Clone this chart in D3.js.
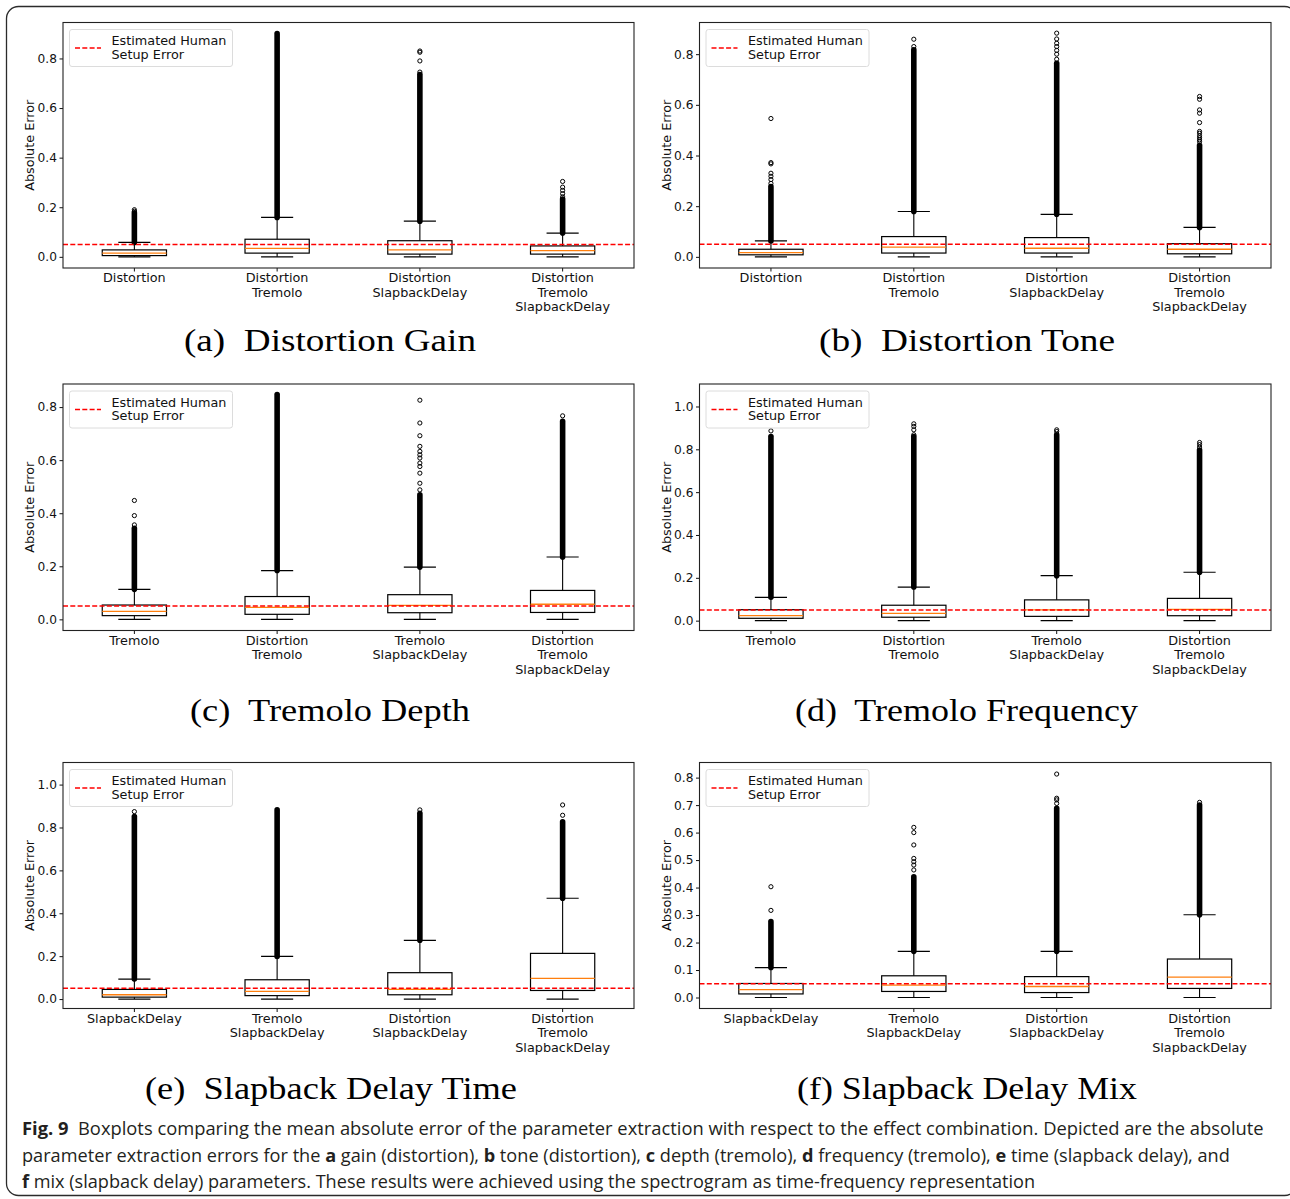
<!DOCTYPE html>
<html>
<head>
<meta charset="utf-8">
<script src="https://cdn.jsdelivr.net/npm/d3@7/dist/d3.min.js"></script>
<style>
  html, body { margin: 0; padding: 0; background: #fff; }
  svg { display: block; }
  .pre { white-space: pre; }
</style>
</head>
<body>
<script>
// ---- Categories (x tick labels, one entry per line) ----
const catsDistortion = [["Distortion"], ["Distortion", "Tremolo"], ["Distortion", "SlapbackDelay"], ["Distortion", "Tremolo", "SlapbackDelay"]];
const catsTremolo = [["Tremolo"], ["Distortion", "Tremolo"], ["Tremolo", "SlapbackDelay"], ["Distortion", "Tremolo", "SlapbackDelay"]];
const catsSlapback = [["SlapbackDelay"], ["Tremolo", "SlapbackDelay"], ["Distortion", "SlapbackDelay"], ["Distortion", "Tremolo", "SlapbackDelay"]];

// ---- Box statistics per category: [whisker low, Q1, median, Q3, whisker high] ----
const gainStats = [[0, 0.005, 0.015, 0.028, 0.058], [0, 0.015, 0.034, 0.071, 0.159], [0, 0.011, 0.028, 0.065, 0.144], [0, 0.011, 0.025, 0.044, 0.096]];
const toneStats = [[0, 0.008, 0.017, 0.030, 0.063], [0, 0.015, 0.038, 0.080, 0.179], [0, 0.015, 0.034, 0.076, 0.168], [0, 0.012, 0.030, 0.052, 0.116]];
const depthStats = [[0, 0.014, 0.030, 0.054, 0.113], [0, 0.019, 0.045, 0.086, 0.184], [0, 0.025, 0.053, 0.093, 0.197], [0, 0.026, 0.057, 0.109, 0.235]];
const freqStats = [[0, 0.011, 0.023, 0.051, 0.109], [0, 0.016, 0.034, 0.072, 0.157], [0, 0.020, 0.050, 0.097, 0.210], [0, 0.023, 0.053, 0.104, 0.226]];
const timeStats = [[0, 0.009, 0.020, 0.045, 0.093], [0, 0.016, 0.036, 0.090, 0.199], [0, 0.020, 0.045, 0.123, 0.274], [0, 0.040, 0.096, 0.213, 0.470]];
const mixStats = [[0, 0.013, 0.029, 0.051, 0.109], [0, 0.022, 0.045, 0.079, 0.168], [0, 0.018, 0.040, 0.076, 0.168], [0, 0.033, 0.074, 0.140, 0.301]];

// ---- Upper end of the densely packed outlier run above each whisker ----
const gainDenseTop = [0.178, 0.900, 0.735, 0.233];
const toneDenseTop = [0.277, 0.817, 0.764, 0.440];
const depthDenseTop = [0.343, 0.847, 0.469, 0.746];
const freqDenseTop = [0.860, 0.860, 0.868, 0.797];
const timeDenseTop = [0.851, 0.882, 0.866, 0.827];
const mixDenseTop = [0.276, 0.439, 0.688, 0.700];

// ---- Separately visible outliers above the dense run ----
const gainOutliers = [[0.184, 0.190], [], [0.745, 0.790, 0.825, 0.830], [0.242, 0.255, 0.268, 0.281, 0.304]];
const toneOutliers = [[0.290, 0.305, 0.318, 0.330, 0.367, 0.372, 0.546], [0.830, 0.859], [0.780, 0.800, 0.815, 0.830, 0.843, 0.860, 0.883], [0.455, 0.462, 0.470, 0.478, 0.488, 0.495, 0.530, 0.567, 0.580, 0.622, 0.633]];
const depthOutliers = [[0.356, 0.391, 0.448], [], [0.488, 0.513, 0.551, 0.576, 0.589, 0.608, 0.620, 0.633, 0.652, 0.692, 0.740, 0.826], [0.767]];
const freqOutliers = [[0.886], [0.868, 0.891, 0.907, 0.919], [0.883, 0.891], [0.810, 0.822, 0.832]];
const timeOutliers = [[0.874], [], [0.882], [0.857, 0.905]];
const mixOutliers = [[0.317, 0.403], [0.464, 0.482, 0.494, 0.506, 0.555, 0.600, 0.619], [0.706, 0.719, 0.725, 0.813], [0.710]];

// ---- Y axis ranges and tick values ----
const gainDomain = [-0.045, 0.945];
const toneDomain = [-0.044, 0.925];
const depthDomain = [-0.042, 0.887];
const freqDomain = [-0.046, 1.105];
const timeDomain = [-0.044, 1.103];
const mixDomain = [-0.040, 0.855];
const ticksFifths = [0, 0.2, 0.4, 0.6, 0.8];
const ticksFifthsToOne = [0, 0.2, 0.4, 0.6, 0.8, 1.0];
const ticksTenths = [0, 0.1, 0.2, 0.3, 0.4, 0.5, 0.6, 0.7, 0.8];

// Estimated human setup error (reference line)
const humanSetupError = 0.05;

// ---- Sub-figure titles ----
const panelTitles = ["(a)  Distortion Gain", "(b)  Distortion Tone", "(c)  Tremolo Depth", "(d)  Tremolo Frequency", "(e)  Slapback Delay Time", "(f) Slapback Delay Mix"];

// ---- Caption lines: [text, bold] runs ----
const captionLines = [
  [["Fig. 9", true], ["  Boxplots comparing the mean absolute error of the parameter extraction with respect to the effect combination. Depicted are the absolute", false]],
  [["parameter extraction errors for the ", false], ["a", true], [" gain (distortion), ", false], ["b", true], [" tone (distortion), ", false], ["c", true], [" depth (tremolo), ", false], ["d", true], [" frequency (tremolo), ", false], ["e", true], [" time (slapback delay), and", false]],
  [["f", true], [" mix (slapback delay) parameters. These results were achieved using the spectrogram as time-frequency representation", false]]
];

// ---------------------------------------------------------------------
const W = 1290, H = 1199;
const svg = d3.select("body").append("svg").attr("width", W).attr("height", H);

// rounded figure frame
svg.append("rect")
  .attr("x", 6.5).attr("y", 6.5).attr("width", 1290).attr("height", 1189)
  .attr("rx", 12).attr("ry", 12)
  .attr("fill", "none").attr("stroke", "#2b2b2b").attr("stroke-width", 1.3);

const colX = [[63, 634], [699.5, 1271]];
const rowY = [[22.5, 268], [384, 630.5], [762.5, 1008.5]];
const titleBaselines = [351, 721, 1099];
const titleSpans = [[184, 292], [819, 296], [190, 280], [795, 343], [145, 372], [797, 340]];

const panels = [
  { cats: catsDistortion, stats: gainStats, dense: gainDenseTop, out: gainOutliers, domain: gainDomain, ticks: ticksFifths },
  { cats: catsDistortion, stats: toneStats, dense: toneDenseTop, out: toneOutliers, domain: toneDomain, ticks: ticksFifths },
  { cats: catsTremolo, stats: depthStats, dense: depthDenseTop, out: depthOutliers, domain: depthDomain, ticks: ticksFifths },
  { cats: catsTremolo, stats: freqStats, dense: freqDenseTop, out: freqOutliers, domain: freqDomain, ticks: ticksFifthsToOne },
  { cats: catsSlapback, stats: timeStats, dense: timeDenseTop, out: timeOutliers, domain: timeDomain, ticks: ticksFifthsToOne },
  { cats: catsSlapback, stats: mixStats, dense: mixDenseTop, out: mixOutliers, domain: mixDomain, ticks: ticksTenths }
];

const FONT = "'DejaVu Sans', sans-serif";
const FS = 12.8;
const TICK_FS = 12.2;
const fmt = d3.format(".1f");

panels.forEach((p, i) => {
  const col = i % 2, row = Math.floor(i / 2);
  const [x0, x1] = colX[col];
  const [y0, y1] = rowY[row];
  const g = svg.append("g");

  const x = d3.scaleBand().domain(d3.range(p.cats.length)).range([x0, x1]).padding(0);
  const y = d3.scaleLinear().domain(p.domain).range([y1, y0]);
  const cx = k => x(k) + x.bandwidth() / 2;
  const boxW = x.bandwidth() * 0.45;
  const capW = boxW / 2;

  // y axis
  const ya = g.append("g").attr("transform", `translate(${x0},0)`)
    .call(d3.axisLeft(y).tickValues(p.ticks).tickFormat(fmt).tickSize(3.5).tickPadding(2.5));
  ya.select(".domain").remove();
  ya.selectAll("line").attr("stroke", "#111").attr("stroke-width", 1);
  ya.selectAll("text").attr("font-family", FONT).attr("font-size", TICK_FS).attr("fill", "#111");

  // x axis ticks and multi-line labels
  const xa = g.append("g").attr("transform", `translate(0,${y1})`)
    .call(d3.axisBottom(x).tickFormat("").tickSize(3.5));
  xa.select(".domain").remove();
  xa.selectAll(".tick").attr("transform", k => `translate(${cx(k)},0)`);
  xa.selectAll("line").attr("stroke", "#111").attr("stroke-width", 1);
  p.cats.forEach((lines, k) => {
    lines.forEach((ln, j) => {
      g.append("text").attr("x", cx(k)).attr("y", y1 + 14 + j * 14.5)
        .attr("text-anchor", "middle").attr("font-family", FONT).attr("font-size", FS)
        .attr("fill", "#111").text(ln);
    });
  });

  // y label
  g.append("text")
    .attr("transform", `translate(${x0 - 29},${(y0 + y1) / 2}) rotate(-90)`)
    .attr("text-anchor", "middle").attr("font-family", FONT).attr("font-size", FS)
    .attr("fill", "#111").text("Absolute Error");

  // boxes
  p.stats.forEach((s, k) => {
    const [lo, q1, med, q3, hi] = s;
    const c = cx(k);
    const bg = g.append("g");
    // dense outlier run
    bg.append("line").attr("x1", c).attr("x2", c)
      .attr("y1", y(hi)).attr("y2", y(p.dense[k]))
      .attr("stroke", "#000").attr("stroke-width", 5.6).attr("stroke-linecap", "round");
    // individual outliers
    bg.selectAll("circle").data(p.out[k]).join("circle")
      .attr("cx", c).attr("cy", v => y(v)).attr("r", 2.1)
      .attr("fill", "none").attr("stroke", "#000").attr("stroke-width", 1);
    // whiskers
    bg.append("line").attr("x1", c).attr("x2", c).attr("y1", y(q3)).attr("y2", y(hi))
      .attr("stroke", "#000").attr("stroke-width", 1.1);
    bg.append("line").attr("x1", c).attr("x2", c).attr("y1", y(lo)).attr("y2", y(q1))
      .attr("stroke", "#000").attr("stroke-width", 1.1);
    // caps
    [lo, hi].forEach(v => bg.append("line")
      .attr("x1", c - capW / 2).attr("x2", c + capW / 2).attr("y1", y(v)).attr("y2", y(v))
      .attr("stroke", "#000").attr("stroke-width", 1.2));
    // box
    bg.append("rect").attr("x", c - boxW / 2).attr("width", boxW)
      .attr("y", y(q3)).attr("height", y(q1) - y(q3))
      .attr("fill", "none").attr("stroke", "#000").attr("stroke-width", 1.2);
    // median
    bg.append("line").attr("x1", c - boxW / 2).attr("x2", c + boxW / 2)
      .attr("y1", y(med)).attr("y2", y(med))
      .attr("stroke", "#ff7f0e").attr("stroke-width", 1.3);
  });

  // reference line
  g.append("line").attr("x1", x0).attr("x2", x1)
    .attr("y1", y(humanSetupError)).attr("y2", y(humanSetupError))
    .attr("stroke", "#ff0000").attr("stroke-width", 1.5).attr("stroke-dasharray", "5,2.3");

  // axes frame
  g.append("rect").attr("x", x0).attr("y", y0).attr("width", x1 - x0).attr("height", y1 - y0)
    .attr("fill", "none").attr("stroke", "#222").attr("stroke-width", 1.1);

  // legend
  const lg = g.append("g").attr("transform", `translate(${x0},${y0})`);
  lg.append("rect").attr("x", 6.5).attr("y", 7).attr("width", 163).attr("height", 37)
    .attr("rx", 2.5).attr("fill", "#fff").attr("fill-opacity", 0.8)
    .attr("stroke", "#dcdcdc").attr("stroke-width", 1);
  lg.append("line").attr("x1", 12).attr("x2", 38).attr("y1", 25.5).attr("y2", 25.5)
    .attr("stroke", "#ff0000").attr("stroke-width", 1.5).attr("stroke-dasharray", "5,2.3");
  ["Estimated Human", "Setup Error"].forEach((t, j) => {
    lg.append("text").attr("x", 48.5).attr("y", 22.5 + j * 13.8)
      .attr("font-family", FONT).attr("font-size", FS).attr("fill", "#111").text(t);
  });

  // sub-figure title
  const [tx, tw] = titleSpans[i];
  svg.append("text").attr("class", "pre")
    .attr("x", tx).attr("y", titleBaselines[row])
    .attr("font-family", "'Liberation Serif', 'DejaVu Serif', serif").attr("font-size", 31)
    .attr("fill", "#000")
    .attr("textLength", tw).attr("lengthAdjust", "spacingAndGlyphs")
    .text(panelTitles[i]);
});

// caption
const capBaselines = [1135, 1161.5, 1188];
const capWidths = [1243, 1208, 1014];
captionLines.forEach((runs, i) => {
  const t = svg.append("text").attr("class", "pre")
    .attr("font-family", "'Open Sans', 'Noto Sans', sans-serif").attr("font-size", 18.5)
    .attr("fill", "#231f20");
  runs.forEach(([s, b]) => t.append("tspan").attr("font-weight", b ? 700 : 400).text(s));
  const w = t.node().getComputedTextLength();
  t.attr("transform", `translate(22,${capBaselines[i]}) scale(${capWidths[i] / w},1)`);
});
</script>
</body>
</html>
